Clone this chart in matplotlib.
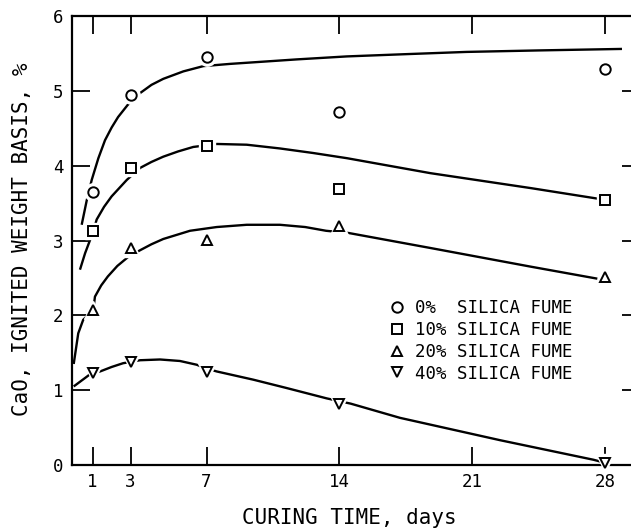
import matplotlib.pyplot as plt

# measured points (curing time in days, CaO %)
days = [1, 3, 7, 14, 28]
sf0 = [3.65, 4.95, 5.45, 4.72, 5.29]
sf10 = [3.13, 3.97, 4.26, 3.69, 3.54]
sf20 = [2.07, 2.90, 3.01, 3.20, 2.51]
sf40 = [1.23, 1.37, 1.24, 0.82, 0.03]

# hand-drawn trend curves
c0_x = [0.42, 0.69, 0.95, 1.3, 1.65, 2.0, 2.34, 2.84, 3.5, 4.1, 4.72, 5.78, 6.83, 8.24, 10.0, 11.75, 14.4, 17.5, 20.7, 24.5, 28.9]
c0_y = [3.21, 3.54, 3.81, 4.10, 4.34, 4.51, 4.65, 4.81, 4.97, 5.08, 5.16, 5.26, 5.33, 5.36, 5.39, 5.42, 5.46, 5.49, 5.52, 5.54, 5.56]
c10_x = [0.33, 0.6, 1.03, 1.21, 1.6, 2.0, 2.8, 3.5, 4.1, 4.72, 5.5, 6.3, 7.54, 9.12, 10.87, 12.6, 14.4, 18.8, 24.1, 27.6]
c10_y = [2.61, 2.83, 3.12, 3.28, 3.45, 3.59, 3.81, 3.97, 4.05, 4.12, 4.19, 4.25, 4.29, 4.28, 4.23, 4.17, 4.10, 3.90, 3.70, 3.56]
c20_x = [0.0, 0.24, 0.5, 1.03, 1.12, 1.45, 1.8, 2.3, 2.87, 3.5, 4.1, 4.72, 6.13, 7.54, 9.12, 10.87, 12.2, 13.3, 14.5, 18.8, 24.1, 27.6]
c20_y = [1.35, 1.76, 1.94, 2.07, 2.25, 2.40, 2.52, 2.66, 2.78, 2.87, 2.95, 3.02, 3.13, 3.18, 3.21, 3.21, 3.18, 3.13, 3.10, 2.90, 2.65, 2.49]
c40_x = [0.0, 0.69, 0.95, 1.39, 2.0, 2.6, 3.5, 4.55, 5.6, 6.48, 7.0, 7.54, 9.47, 11.2, 13.34, 14.6, 17.2, 22.5, 27.4, 28.0]
c40_y = [1.05, 1.18, 1.23, 1.25, 1.31, 1.36, 1.40, 1.41, 1.39, 1.34, 1.29, 1.25, 1.14, 1.03, 0.89, 0.82, 0.63, 0.33, 0.07, 0.03]

labels = ['0%  SILICA FUME', '10% SILICA FUME', '20% SILICA FUME', '40% SILICA FUME']
markers = ['o', 's', '^', 'v']
msizes = [7.5, 7, 7.5, 7.5]

plt.rcParams['font.family'] = ['DejaVu Sans Mono', 'DejaVu Sans']

fig = plt.figure(figsize=(6.31, 5.30), dpi=100)
ax = fig.add_axes([72/631, 1-465/530, 568/631, 449/530])

for cx, cy in [(c0_x, c0_y), (c10_x, c10_y), (c20_x, c20_y), (c40_x, c40_y)]:
    ax.plot(cx, cy, color='black', lw=1.7, zorder=2, solid_capstyle='butt',
            solid_joinstyle='round')

for ys, m, ms, lab in zip([sf0, sf10, sf20, sf40], markers, msizes, labels):
    # white halo so the curves break around each point
    ax.plot(days, ys, ls='none', marker=m, ms=ms+5, mfc='white', mec='white',
            zorder=4, clip_on=False)
    ax.plot(days, ys, ls='none', marker=m, ms=ms, mfc='white', mec='black',
            mew=1.4, zorder=5, clip_on=False, label=lab)

ax.set_xlim(-0.09, 29.85)
ax.set_ylim(0, 6)
ax.set_xticks([1, 3, 7, 14, 21, 28])
ax.set_yticks([0, 1, 2, 3, 4, 5, 6])
ax.tick_params(axis='x', direction='in', top=True, length=13, width=1.3,
               labelsize=12.5, pad=6)
ax.tick_params(axis='y', direction='in', right=True, length=13, width=1.3,
               labelsize=12.5, pad=6)
for s in ax.spines.values():
    s.set_linewidth(1.6)

ax.set_xlabel('CURING TIME, days', fontsize=15)
ax.xaxis.set_label_coords(0.489, -0.095)
ax.set_ylabel('CaO, IGNITED WEIGHT BASIS, %', fontsize=15)
ax.yaxis.set_label_coords(-0.070, 0.503)

ax.legend(loc='upper left', bbox_to_anchor=(0.545, 0.385), frameon=False,
          fontsize=12.5, handletextpad=0.5, labelspacing=0.22,
          handlelength=1.0, borderaxespad=0)

fig.savefig('out.png', dpi=100)
